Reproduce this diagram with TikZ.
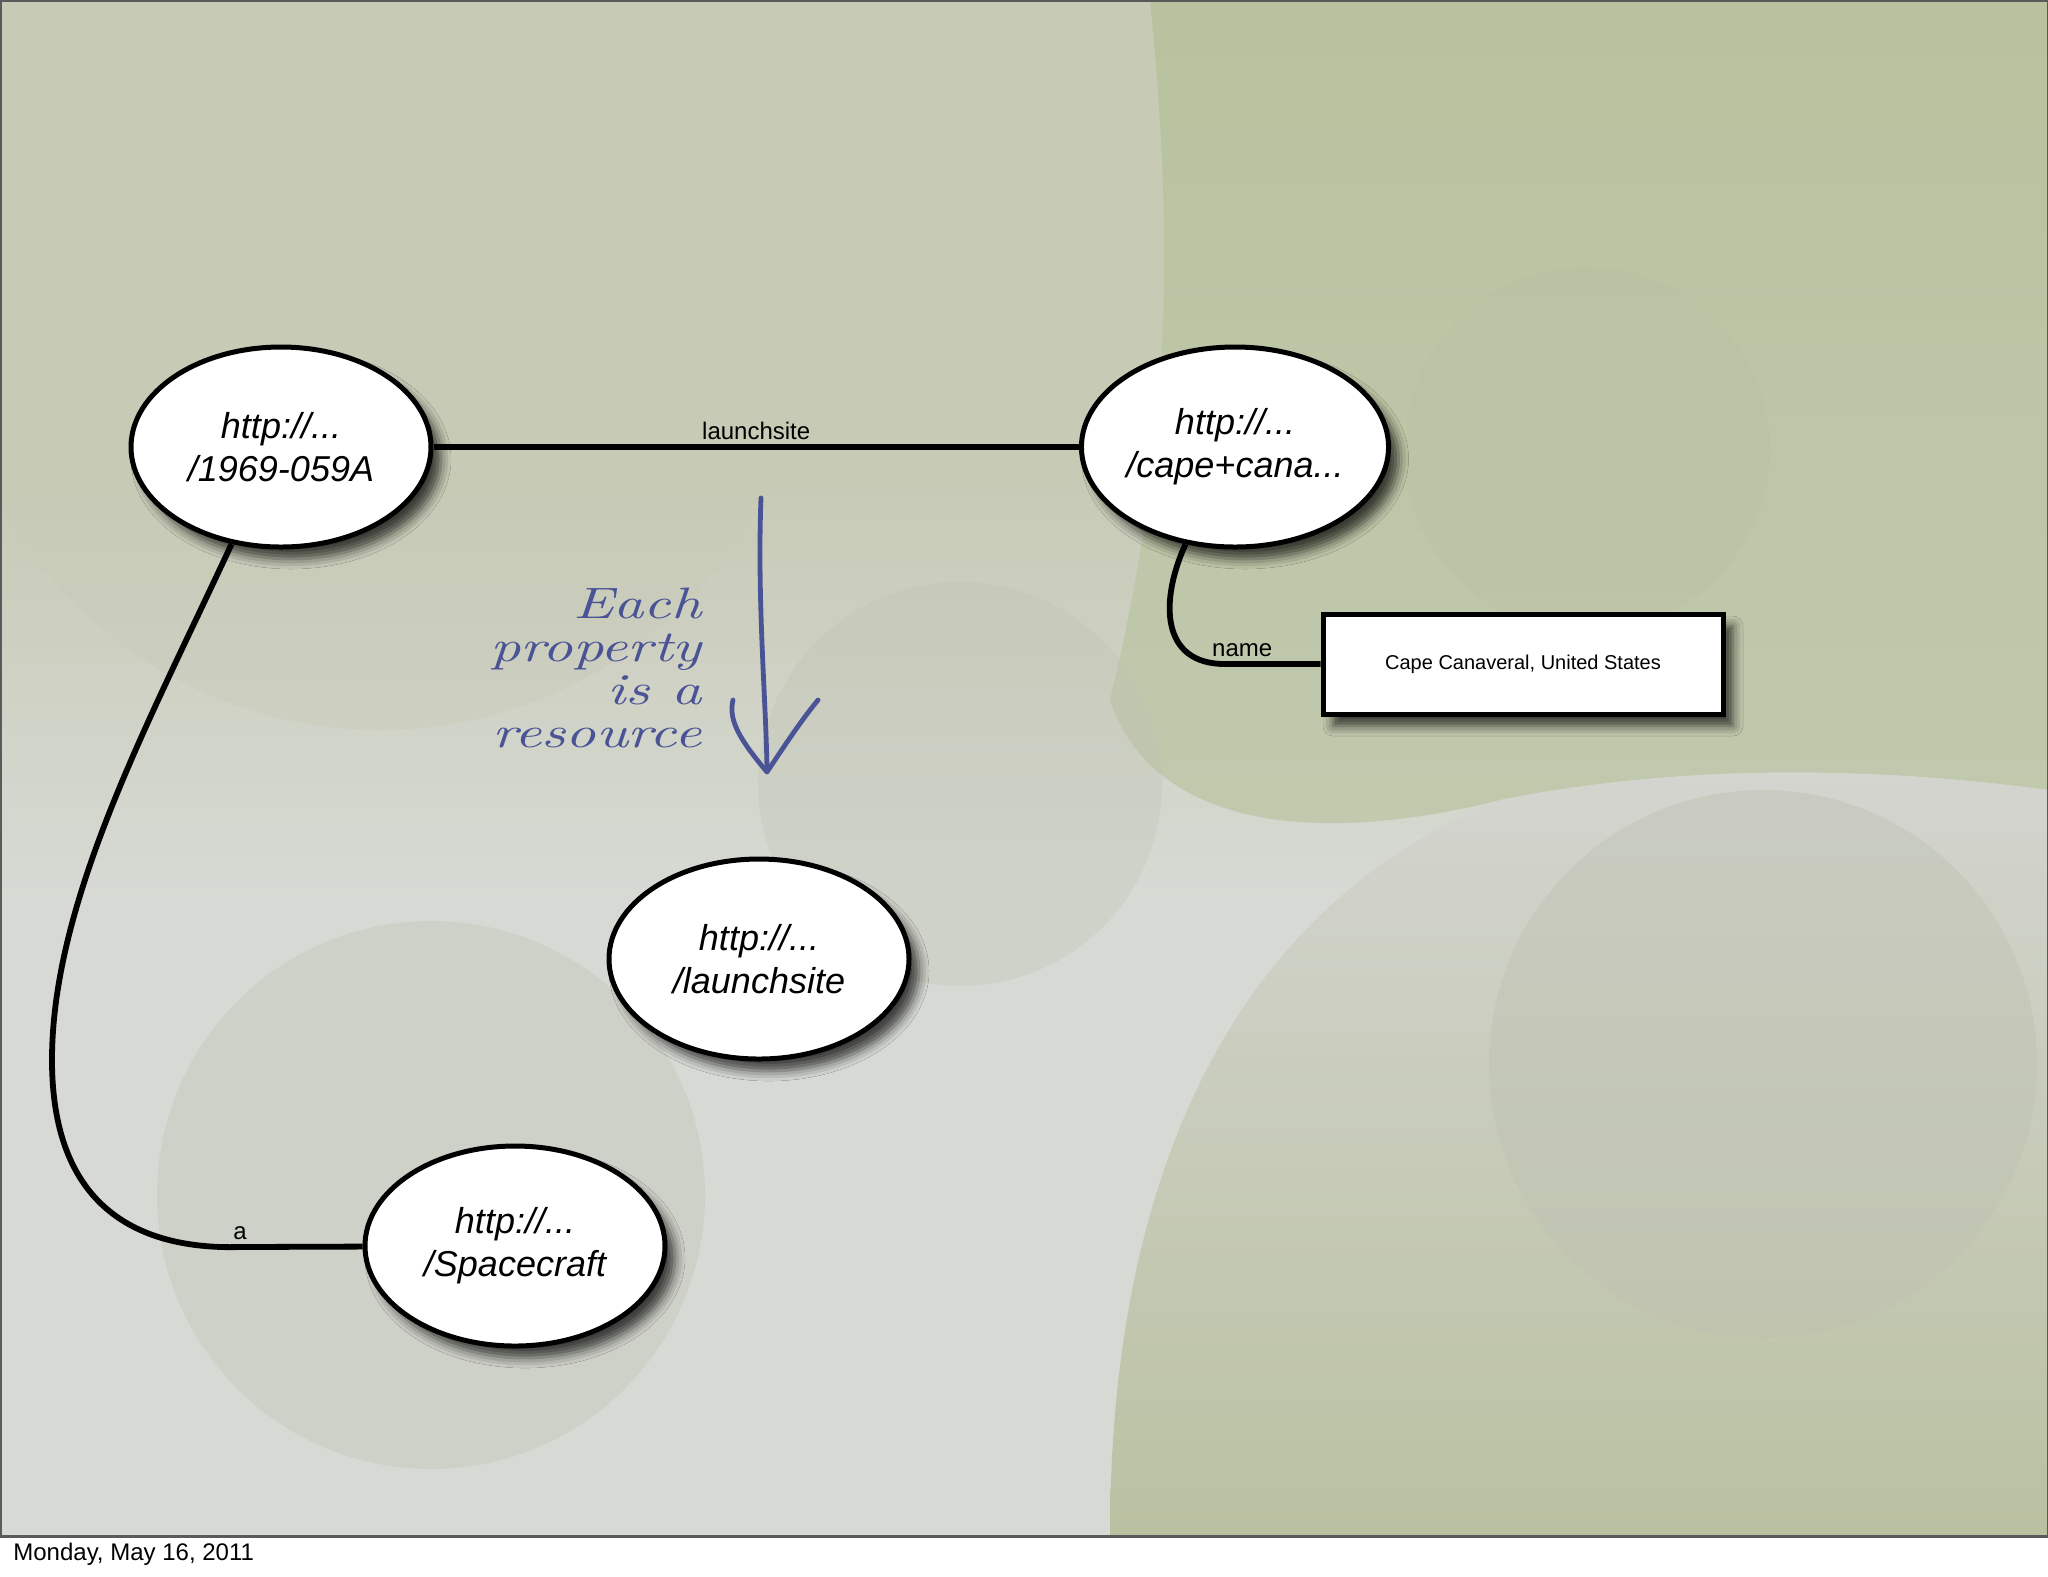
\documentclass[tikz,border=0pt]{standalone}
\usepackage{fontspec}
\setsansfont{Liberation Sans}
\newfontfamily\handfont{lmroman10-italic}[Extension=.otf,FakeStretch=1.35]
\usetikzlibrary{shapes.geometric,shadows.blur}
\definecolor{SlateBase}{HTML}{C7CAB5}
\definecolor{SlateLight}{HTML}{D7DAD4}
\definecolor{Moss}{HTML}{B8C29E}
\definecolor{MossDeep}{HTML}{BAC1A1}
\definecolor{Fog}{HTML}{D4D5D0}
\definecolor{Ring}{HTML}{BFC2B2}
\definecolor{HandInk}{HTML}{4A5396}
\definecolor{Frame}{HTML}{5A5A5A}
\tikzset{
  resnode/.style={ellipse,draw=black,line width=2.5pt,fill=white,minimum width=150pt,
    minimum height=100pt,inner sep=0pt,align=center,
    font=\sffamily\itshape\fontsize{18}{21.5}\selectfont,
    blur shadow={shadow xshift=5pt,shadow yshift=-6pt,shadow blur radius=5pt,shadow opacity=70}},
  litbox/.style={rectangle,draw=black,line width=2.5pt,fill=white,minimum width=200pt,
    minimum height=50pt,inner sep=0pt,font=\sffamily\fontsize{10}{12}\selectfont,
    blur shadow={shadow xshift=5pt,shadow yshift=-6pt,shadow blur radius=5pt,shadow opacity=70}},
  edgeline/.style={draw=black,line width=2.9pt},
  edgelabel/.style={font=\sffamily\fontsize{12}{14}\selectfont,inner sep=2pt},
  handline/.style={draw=HandInk,line width=2.4pt,line cap=round,line join=round},
  handnote/.style={text=HandInk,align=right,inner sep=0pt,
    font=\handfont\fontsize{22}{21.5}\selectfont},
}
\begin{document}
\begin{tikzpicture}[x=0.5pt,y=-0.5pt]
  \useasboundingbox (0,0) rectangle (2048,1576);
  \fill[white] (0,0) rectangle (2048,1576);

  % slide background
  \fill[SlateBase] (0,0) rectangle (2048,1536);
  \shade[top color=SlateBase,bottom color=SlateLight] (0,480) rectangle (2048,900);
  \fill[SlateLight] (0,900) rectangle (2048,1536);
  \fill[SlateBase,opacity=.3] (380,300) circle (430);
  \shade[top color=Moss,bottom color=Moss!70!SlateLight] (1150,0) -- (2048,0) -- (2048,790)
    .. controls (1900,770) and (1700,760) .. (1500,800)
    .. controls (1300,850) and (1150,820) .. (1110,700)
    .. controls (1170,450) and (1175,250) .. (1150,0) -- cycle;
  \shade[top color=Fog,bottom color=MossDeep] (1110,1536) .. controls (1110,1150) and (1250,900) .. (1500,800)
    .. controls (1700,760) and (1900,770) .. (2048,790) -- (2048,1536) -- cycle;
  \fill[Ring,opacity=.45] (1763,1064) circle (274);
  \fill[Ring,opacity=.3] (960,784) circle (202);
  \fill[MossDeep!80!Ring,opacity=.4] (1587,450) circle (183);
  \fill[Ring,opacity=.35] (431,1195) circle (274);
  \draw[Frame,line width=1.5pt] (0,0) rectangle (2048,1536);

  % resources and literal
  \node[resnode] (mission) at (281,447) {http://...\\/1969-059A};
  \node[resnode] (cape) at (1235,447) {http://...\\/cape+cana...};
  \node[resnode] (launchprop) at (759,959) {http://...\\/launchsite};
  \node[resnode] (craft) at (515,1246) {http://...\\/Spacecraft};
  \node[litbox] (capename) at (1523,664) {Cape Canaveral, United States};

  % statements
  \draw[edgeline] (mission) -- node[edgelabel,above] {launchsite} (cape);
  \draw[edgeline] (mission.243) .. controls (150,720) and (52,900) .. (52,1060)
    .. controls (52,1200) and (130,1250) .. (240,1247) node[edgelabel,above] {a} -- (craft);
  \draw[edgeline] (cape.243) .. controls (1160,600) and (1160,664) .. (1225,664)
    -- node[edgelabel,above,pos=0.18] {name} (capename);

  % hand-drawn note
  \node[handnote,anchor=base east] (note) at (702,747) {Each\\property\\is a\\resource};
  \draw[handline] (761,498) .. controls (757,600) and (766,700) .. (767,770);
  \draw[handline] (733,700) .. controls (728,720) and (740,740) .. (767,772)
    .. controls (785,745) and (800,722) .. (818,700);

  \node[anchor=west,font=\sffamily\fontsize{12}{14}\selectfont,inner sep=0pt] (date) at (13,1554) {Monday, May 16, 2011};
\end{tikzpicture}
\end{document}
